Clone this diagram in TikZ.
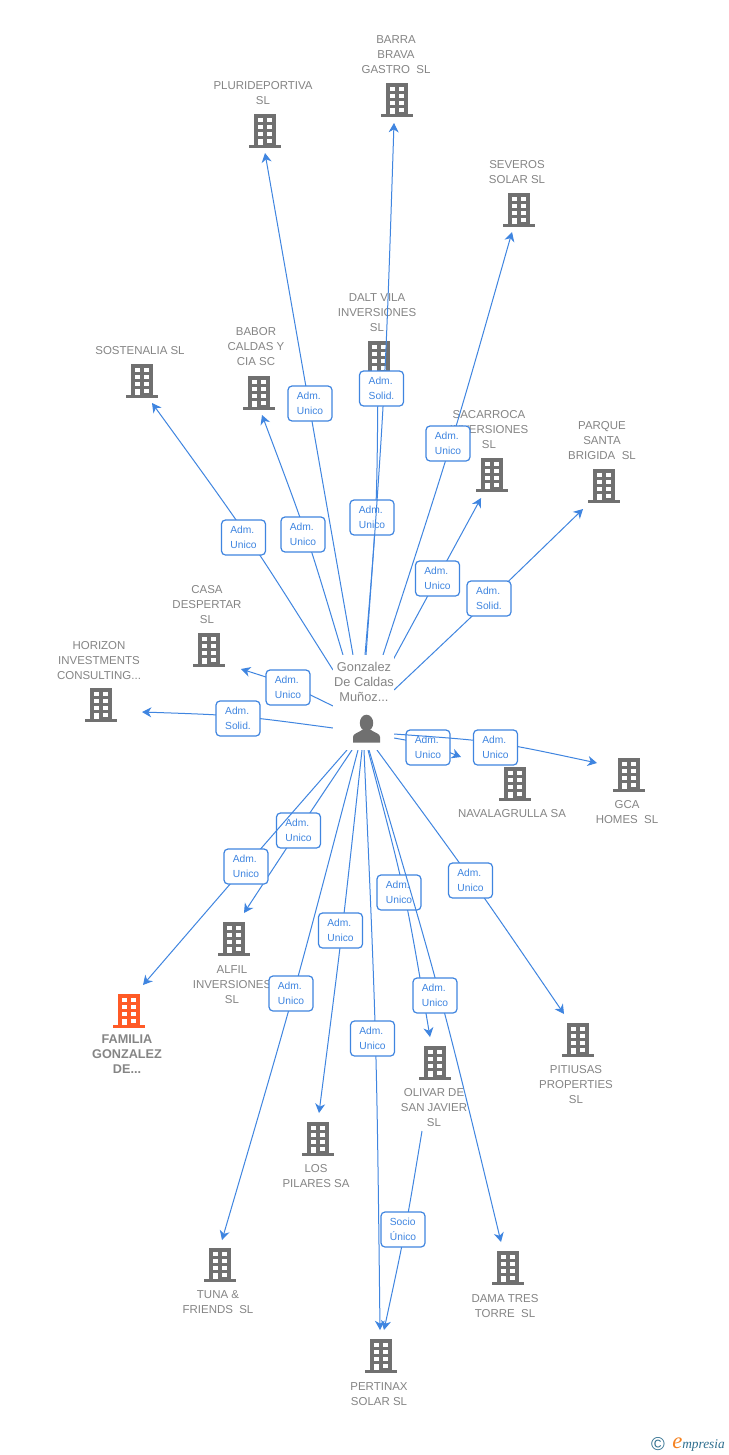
\documentclass[tikz,border=0pt]{standalone}
\usepackage{fontspec}
\setmainfont{Liberation Sans}
\newfontfamily\logofont{Liberation Serif}
\usetikzlibrary{arrows.meta,calc}
\definecolor{linkblue}{HTML}{3F85E0}
\definecolor{nametext}{HTML}{858585}
\definecolor{bldgrey}{HTML}{707070}
\definecolor{bldorange}{HTML}{FF5A26}
\definecolor{logoteal}{HTML}{2F6F8F}
\definecolor{logoorange}{HTML}{F58220}
\tikzset{
  x=0.75pt,y=-0.75pt,
  linkline/.style={draw=linkblue,line width=0.75pt,-{Stealth[length=7pt,width=7.5pt,inset=2.2pt]}},
  linklabel/.style={draw=linkblue,fill=white,line width=0.9pt,rounded corners=3pt,minimum width=33pt,minimum height=26.25pt,inner sep=0pt,align=left,text=linkblue,font=\fontsize{7.7pt}{11.25pt}\selectfont},
  nametag/.style={text=nametext,inner sep=0pt,yshift=-0.75pt,align=center,font=\fontsize{8.6pt}{11.25pt}\selectfont},
  nametagbold/.style={text=nametext,inner sep=0pt,align=center,font=\fontsize{9.5pt}{11.25pt}\selectfont\bfseries},
  personbox/.style={fill=white,inner sep=0pt,minimum width=45.75pt,minimum height=71.25pt},
  persontag/.style={text=nametext,inner sep=0pt,align=center,font=\fontsize{9.6pt}{11.25pt}\selectfont},
  pics/bldg/.style={code={
    \fill[#1] (-11,-17) rectangle (11,14);
    \fill[#1] (-16,14) rectangle (16,17);
    \foreach \yy in {-13,-6,1}{
      \fill[white] (-7,\yy) rectangle (-2,\yy+4);
      \fill[white] (2,\yy) rectangle (7,\yy+4);
    }
    \fill[white] (-7,8) rectangle (-2,14);
    \fill[white] (2,8) rectangle (7,12);
  }},
}
\newcommand{\lnk}[7]{%
  \coordinate (#1s) at (#2);
  \coordinate (#1m) at (#3);
  \coordinate (#1t) at (#4);
  \draw[linkline] (#1s) .. controls ($1.3333*(#1m)-0.1667*(#1s)-0.1667*(#1t)$) .. (#1t);
  \node[linklabel] (#1l) at (#5) {#6\\#7};
}
\begin{document}
\begin{tikzpicture}
\fill[white] (0,0) rectangle (728,1455);
\useasboundingbox (0,0) rectangle (728,1455);

% buildings
\pic at (265,131) {bldg=bldgrey};
\pic at (397,100) {bldg=bldgrey};
\pic at (519,210) {bldg=bldgrey};
\pic at (379,358) {bldg=bldgrey};
\pic at (259,393) {bldg=bldgrey};
\pic at (142,381) {bldg=bldgrey};
\pic at (492,475) {bldg=bldgrey};
\pic at (604,486) {bldg=bldgrey};
\pic at (209,650) {bldg=bldgrey};
\pic at (101,705) {bldg=bldgrey};
\pic at (515,784) {bldg=bldgrey};
\pic at (629,775) {bldg=bldgrey};
\pic at (234,939) {bldg=bldgrey};
\pic at (129,1011) {bldg=bldorange};
\pic at (318,1139) {bldg=bldgrey};
\pic at (435,1063) {bldg=bldgrey};
\pic at (578,1040) {bldg=bldgrey};
\pic at (220,1265) {bldg=bldgrey};
\pic at (508,1268) {bldg=bldgrey};
\pic at (381,1356) {bldg=bldgrey};

% names
\node[nametag] (n1) at (263,92.5) {PLURIDEPORTIVA\\SL};
\node[nametag] (n2) at (396,54) {BARRA\\BRAVA\\GASTRO\ \ SL};
\node[nametag] (n3) at (517,171.5) {SEVEROS\\SOLAR SL};
\node[nametag] (n4) at (377,312) {DALT VILA\\INVERSIONES\\SL};
\node[nametag] (n5) at (256,346) {BABOR\\CALDAS Y\\CIA SC};
\node[nametag] (n6) at (140,350) {SOSTENALIA SL};
\node[nametag] (n7) at (489,429) {SACARROCA\\INVERSIONES\\SL};
\node[nametag] (n8) at (602,440) {PARQUE\\SANTA\\BRIGIDA\ \ SL};
\node[nametag] (n9) at (207,604) {CASA\\DESPERTAR\\SL};
\node[nametag] (n10) at (99,660) {HORIZON\\INVESTMENTS\\CONSULTING...};
\node[nametag] (n11) at (512,813) {NAVALAGRULLA SA};
\node[nametag] (n12) at (627,811.5) {GCA\\HOMES\ \ SL};
\node[nametag] (n13) at (232,984) {ALFIL\\INVERSIONES\\SL};
\node[nametagbold] (n14) at (127,1054.5) {FAMILIA\\GONZALEZ\\DE...};
\node[nametag] (n15) at (316,1175.5) {LOS\\PILARES SA};
\node[nametag] (n16) at (434,1107) {OLIVAR DE\\SAN JAVIER\\SL};
\node[nametag] (n17) at (576,1084) {PITIUSAS\\PROPERTIES\\SL};
\node[nametag] (n18) at (218,1301.5) {TUNA \&\\FRIENDS\ \ SL};
\node[nametag] (n19) at (505,1305.5) {DAMA TRES\\TORRE\ \ SL};
\node[nametag] (n20) at (379,1393.5) {PERTINAX\\SOLAR SL};

% links
\lnk{a}{353,655}{309,404}{265,153}{310,403.5}{Adm.}{Unico}
\lnk{d}{365,655}{375.5,516}{378,378}{372,517.5}{Adm.}{Unico}
\lnk{b}{366,655}{384,389}{394,123}{381.5,388.5}{Adm.}{Solid.}
\lnk{c}{383,655}{451,443}{512,232}{448,443.5}{Adm.}{Unico}
\lnk{e}{393,660}{437,579}{481,498}{437.5,578.5}{Adm.}{Unico}
\lnk{f}{394,690}{489,600}{583,509}{489,598.5}{Adm.}{Solid.}
\lnk{g}{343,655}{306,535}{262,415}{303,534.5}{Adm.}{Unico}
\lnk{h}{333,670}{247,536}{152,403}{243.5,537.5}{Adm.}{Unico}
\lnk{i}{333,706}{288,685}{241,669}{288,687.5}{Adm.}{Unico}
\lnk{j}{333,728}{238,716.5}{142,712}{238,718.5}{Adm.}{Solid.}
\lnk{k}{394,738}{428,745}{461,757}{428,747.5}{Adm.}{Unico}
\lnk{l}{394,734}{495,743}{597,763}{495.5,747.5}{Adm.}{Unico}
\lnk{m}{352,750}{298,831}{244,913}{298.5,830.5}{Adm.}{Unico}
\lnk{n}{347,750}{245,867}{143,985}{246,866.5}{Adm.}{Unico}
\lnk{o}{358,750}{293,995}{222,1240}{291,993.5}{Adm.}{Unico}
\lnk{p}{362,750}{342,931}{319,1113}{340.5,930.5}{Adm.}{Unico}
\lnk{q}{364,750}{375.5,1040}{380,1330}{372.5,1038.5}{Adm.}{Unico}
\lnk{r}{368,750}{404,893}{430,1037}{399,892.5}{Adm.}{Unico}
\lnk{s}{369,750}{440,996}{501,1242}{435,995.5}{Adm.}{Unico}
\lnk{u}{377,750}{473,882}{564,1014}{470.5,880.5}{Adm.}{Unico}
\lnk{v}{422,1131}{405,1230}{384,1330}{403,1229.5}{Socio}{Único}

% person
\node[personbox] (pbox) at (363.5,702.5) {};
\node[persontag] (pname) at (364,681.5) {Gonzalez\\De Caldas\\Muñoz...};
\fill[bldgrey] (366.5,723) ellipse (6.7 and 8.3);
\fill[bldgrey] (353,742.5) -- (353,737) .. controls (353,733.5) and (358,733) .. (362,730) -- (371,730) .. controls (375,733) and (380,733.5) .. (380,737) -- (380,742.5) -- cycle;

% logo
\node[inner sep=0pt,text=logoteal,font=\fontsize{14pt}{14pt}\selectfont] (copyr) at (658,1444) {©};
\node[inner sep=0pt,anchor=base west,font=\logofont\itshape\fontsize{10pt}{12pt}\selectfont,text=logoteal] (logo) at (672,1448.5) {{\color{logoorange}\fontsize{17pt}{17pt}\selectfont e}mpresia};
\end{tikzpicture}
\end{document}
